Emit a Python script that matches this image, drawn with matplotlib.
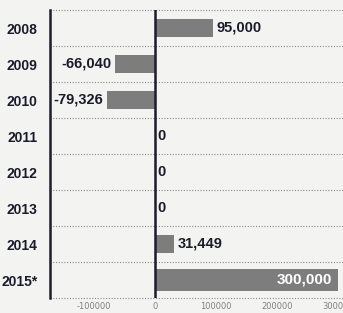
import matplotlib
matplotlib.use("Agg")
import matplotlib.pyplot as plt

years = ["2008", "2009", "2010", "2011", "2012", "2013", "2014", "2015*"]
values = [95000, -66040, -79326, 0, 0, 0, 31449, 300000]
value_labels = ["95,000", "-66,040", "-79,326", "0", "0", "0", "31,449", "300,000"]
xticks = [-100000, 0, 100000, 200000, 300000]
xtick_labels = ["-100000", "0", "100000", "200000", "300000"]

FONT = ["Liberation Sans", "DejaVu Sans"]

fig = plt.figure(figsize=(3.43, 3.13), dpi=100)
fig.patch.set_facecolor("#f3f3f1")
ax = fig.add_axes([50/343, 1-298/313, 1-50/343, 288/313])
ax.set_facecolor("#f3f3f1")

ypos = list(range(len(years)))
heights = [0.5]*7 + [0.6]
ax.barh(ypos, values, height=heights, color="#7d7d7d", zorder=2)

ax.set_xlim(-172000, 308000)
ax.set_ylim(7.5, -0.5)

for y in [i - 0.5 for i in range(len(years)+1)]:
    ax.axhline(y, color="#8a8a8a", lw=0.8, ls=(0, (1, 1.5)), zorder=1, clip_on=False)

ax.axvline(0, color="#1c1c2a", lw=1.8, zorder=3)

navy = "#1b1b2b"
fs = 10.5
for i, (v, lab) in enumerate(zip(values, value_labels)):
    if v >= 300000:
        ax.text(v - 10000, i, lab, ha="right", va="center", color="white",
                fontsize=11, fontweight="bold", family=FONT, zorder=4)
    elif v > 0:
        ax.text(v + 5000, i, lab, ha="left", va="center", color=navy,
                fontsize=fs, fontweight="bold", family=FONT, zorder=4)
    elif v < 0:
        ax.text(v - 6000, i, lab, ha="right", va="center", color=navy,
                fontsize=fs, fontweight="bold", family=FONT, zorder=4)
    else:
        ax.text(4000, i, lab, ha="left", va="center", color=navy,
                fontsize=fs, fontweight="bold", family=FONT, zorder=4)

ax.set_yticks(ypos)
ax.set_yticklabels(years, fontsize=10, fontweight="bold", color=navy, family=FONT)
ax.tick_params(axis="y", length=0, pad=9)
ax.set_xticks(xticks)
ax.set_xticklabels(xtick_labels, fontsize=6, color="#808080")
ax.tick_params(axis="x", length=0, pad=3)

for s in ["top", "right", "bottom"]:
    ax.spines[s].set_visible(False)
ax.spines["left"].set_color("#1c1c2a")
ax.spines["left"].set_linewidth(1.8)

fig.savefig("out.png", dpi=100, facecolor=fig.get_facecolor())
